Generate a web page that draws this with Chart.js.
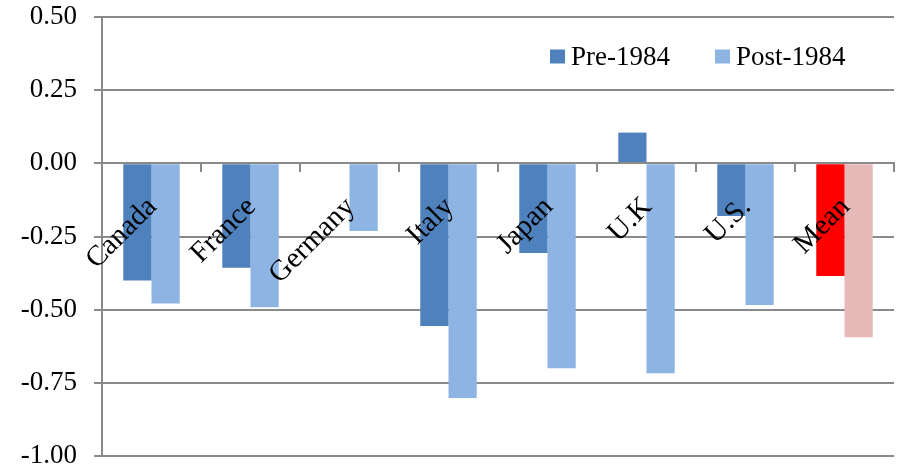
<!DOCTYPE html>
<html>
<head>
<meta charset="utf-8">
<script src="https://cdn.jsdelivr.net/npm/chart.js@4/dist/chart.umd.min.js"></script>
<style>
  html, body { margin: 0; padding: 0; background: #ffffff; }
  #wrap { width: 914px; height: 468px; }
</style>
</head>
<body>
<div id="wrap"><canvas id="chart" width="914" height="468"></canvas></div>
<script>
// Countries plus the cross-country mean
const categories = ['Canada', 'France', 'Germany', 'Italy', 'Japan', 'U.K', 'U.S.', 'Mean'];

// Coefficient estimates by sub-sample (no pre-1984 value for Germany)
const pre1984  = [-0.40, -0.357, null, -0.556, -0.306, 0.105, -0.18, -0.385];
const post1984 = [-0.479, -0.492, -0.231, -0.802, -0.70, -0.717, -0.484, -0.594];

const seriesNames = ['Pre-1984', 'Post-1984'];

// Y axis range and step
const yMin = -1.0;
const yMax = 0.5;
const yStep = 0.25;

const FONT = '"Liberation Serif", "Times New Roman", serif';
const AXIS_GREY = '#8a8a8a';

const preColor = '#4f81bd';
const postColor = '#8db4e2';
const meanPreColor = '#ff0000';
const meanPostColor = '#e6b9b8';

function colorsFor(base, meanColor) {
  return categories.map(c => c === 'Mean' ? meanColor : base);
}

// Scales should not reserve extra room for half-label overhang
function noOverhang(scale) {
  scale.paddingTop = 0;
  scale.paddingBottom = 0;
  scale.paddingLeft = 0;
  scale.paddingRight = 0;
}

// Legend drawn inside the plot area, in the upper right
const insideLegend = {
  id: 'insideLegend',
  afterDraw(chart) {
    const ctx = chart.ctx;
    const items = [
      { text: seriesNames[0], color: preColor, x: 550 },
      { text: seriesNames[1], color: postColor, x: 715 }
    ];
    const cy = 56.5;
    ctx.save();
    ctx.font = '27px ' + FONT;
    ctx.textBaseline = 'middle';
    ctx.textAlign = 'left';
    items.forEach(it => {
      ctx.fillStyle = it.color;
      ctx.fillRect(it.x, cy - 7, 15, 14);
      ctx.fillStyle = '#000000';
      ctx.fillText(it.text, it.x + 21, cy + 1);
    });
    ctx.restore();
  }
};

new Chart(document.getElementById('chart'), {
  type: 'bar',
  data: {
    labels: categories,
    datasets: [
      {
        label: seriesNames[0],
        data: pre1984,
        backgroundColor: colorsFor(preColor, meanPreColor),
        borderWidth: 0,
        categoryPercentage: 0.57,
        barPercentage: 1.0
      },
      {
        label: seriesNames[1],
        data: post1984,
        backgroundColor: colorsFor(postColor, meanPostColor),
        borderWidth: 0,
        categoryPercentage: 0.57,
        barPercentage: 1.0
      }
    ]
  },
  options: {
    responsive: false,
    animation: false,
    devicePixelRatio: 1,
    layout: { padding: { left: 0, right: 20, top: 17, bottom: 12 } },
    plugins: {
      legend: { display: false },
      tooltip: { enabled: false }
    },
    scales: {
      x: {
        position: { y: 0 },
        afterFit: noOverhang,
        grid: {
          offset: true,
          drawOnChartArea: false,
          drawTicks: true,
          tickLength: 8,
          color: AXIS_GREY,
          lineWidth: 2,
          z: 1
        },
        border: { display: true, color: AXIS_GREY, width: 2, z: 1 },
        ticks: {
          autoSkip: false,
          minRotation: 45,
          maxRotation: 45,
          padding: 19,
          labelOffset: 1,
          z: 1,
          color: '#000000',
          font: { family: FONT, size: 29 }
        }
      },
      y: {
        min: yMin,
        max: yMax,
        afterFit(scale) { scale.width = 102; noOverhang(scale); },
        grid: {
          color: AXIS_GREY,
          lineWidth: 2,
          drawTicks: true,
          tickLength: 8
        },
        border: { display: true, color: AXIS_GREY, width: 2 },
        ticks: {
          stepSize: yStep,
          padding: 17,
          color: '#000000',
          font: { family: FONT, size: 27 },
          callback: v => Number(v).toFixed(2)
        }
      }
    }
  },
  plugins: [insideLegend]
});
</script>
</body>
</html>
